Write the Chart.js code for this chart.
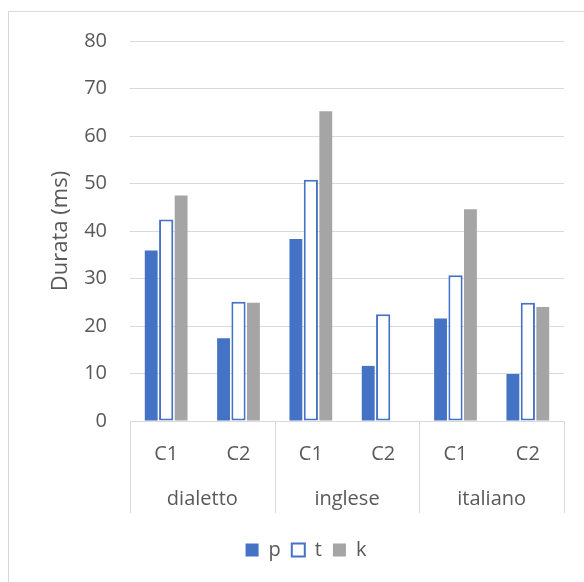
<!DOCTYPE html>
<html>
<head>
<meta charset="utf-8">
<script src="https://cdn.jsdelivr.net/npm/chart.js@4.4.1/dist/chart.umd.min.js"></script>
<style>
  html, body { margin: 0; padding: 0; background: #ffffff; overflow: hidden; }
  #wrap { position: relative; width: 584px; height: 582px; }
</style>
</head>
<body>
<div id="wrap"><canvas id="chart" width="584" height="582"></canvas></div>
<script>
// Inner categories (conditions) and their outer groups
const conditions = ['C1', 'C2', 'C1', 'C2', 'C1', 'C2'];
const groups = ['dialetto', 'inglese', 'italiano'];

// Durations in ms, one value per condition within each group
const pValues = [35.9, 17.4, 38.3, 11.6, 21.6, 9.9];
const tValues = [42.4, 25.1, 50.8, 22.5, 30.7, 24.9];
const kValues = [47.5, 24.9, 65.2, 0, 44.6, 24.0];

const yTicks = [0, 10, 20, 30, 40, 50, 60, 70, 80];

const FONT = "'Open Sans', 'Liberation Sans', sans-serif";
const TEXT = '#595959';
const GRID = '#d9d9d9';

// Frame around the whole chart plus the group separators below the axis
const framePlugin = {
  id: 'frame',
  beforeDraw(chart) {
    const ctx = chart.ctx;
    ctx.save();
    ctx.fillStyle = '#ffffff';
    ctx.fillRect(0, 0, chart.width, chart.height);
    ctx.strokeStyle = GRID;
    ctx.lineWidth = 1;
    ctx.strokeRect(8.5, 11.5, chart.width + 20, chart.height + 20);
    ctx.restore();
  },
  afterDraw(chart) {
    const x = chart.scales.x;
    const x2 = chart.scales.x2;
    const ctx = chart.ctx;
    const step = x.getPixelForValue(1) - x.getPixelForValue(0);
    const top = chart.chartArea.bottom;
    const bottom = x2.top + 36;
    ctx.save();
    ctx.strokeStyle = GRID;
    ctx.lineWidth = 1;
    for (let g = 0; g <= groups.length; g++) {
      const px = Math.round(x.getPixelForValue(g * 2) - step / 2) + 0.5;
      ctx.beginPath();
      ctx.moveTo(px, top);
      ctx.lineTo(px, bottom);
      ctx.stroke();
    }
    ctx.restore();
  }
};

new Chart(document.getElementById('chart'), {
  type: 'bar',
  data: {
    labels: conditions,
    datasets: [
      {
        label: 'p',
        data: pValues,
        backgroundColor: '#4472C4',
        borderWidth: 0,
        barPercentage: 0.86
      },
      {
        label: 't',
        data: tValues,
        backgroundColor: '#ffffff',
        borderColor: '#4472C4',
        borderWidth: 2,
        borderSkipped: false,
        barPercentage: 0.95
      },
      {
        label: 'k',
        data: kValues,
        backgroundColor: '#A5A5A5',
        borderWidth: 0,
        barPercentage: 0.86
      }
    ]
  },
  options: {
    responsive: false,
    animation: false,
    devicePixelRatio: 1,
    layout: { padding: { left: 48, right: 20, top: 41, bottom: 12 } },
    datasets: { bar: { categoryPercentage: 0.62 } },
    plugins: {
      legend: {
        position: 'bottom',
        labels: {
          color: TEXT,
          font: { family: FONT, size: 20 },
          boxWidth: 13,
          boxHeight: 13,
          padding: 11
        }
      },
      tooltip: { enabled: false }
    },
    scales: {
      x: {
        type: 'category',
        weight: 0,
        grid: { display: false, drawTicks: false },
        border: { display: true, color: GRID, width: 1 },
        ticks: { color: TEXT, font: { family: FONT, size: 20 }, padding: 21, maxRotation: 0, autoSkip: false },
        afterFit(s) { s.height = 56; }
      },
      x2: {
        type: 'category',
        position: 'bottom',
        weight: 1,
        labels: groups,
        offset: true,
        grid: { display: false, drawTicks: false },
        border: { display: false },
        ticks: { color: TEXT, font: { family: FONT, size: 20 }, padding: 10, maxRotation: 0, autoSkip: false },
        afterFit(s) { s.height = 52; }
      },
      y: {
        min: 0,
        max: 80,
        afterBuildTicks(s) { s.ticks = yTicks.map(v => ({ value: v })); },
        grid: { color: GRID, lineWidth: 1, drawTicks: false },
        border: { display: false },
        ticks: { color: TEXT, font: { family: FONT, size: 20 }, padding: 23 },
        title: {
          display: true,
          text: 'Durata (ms)',
          color: TEXT,
          font: { family: FONT, size: 22 },
          padding: { top: 0, bottom: 0 }
        },
        afterFit(s) { s.width = 82; }
      }
    }
  },
  plugins: [framePlugin]
});
</script>
</body>
</html>
